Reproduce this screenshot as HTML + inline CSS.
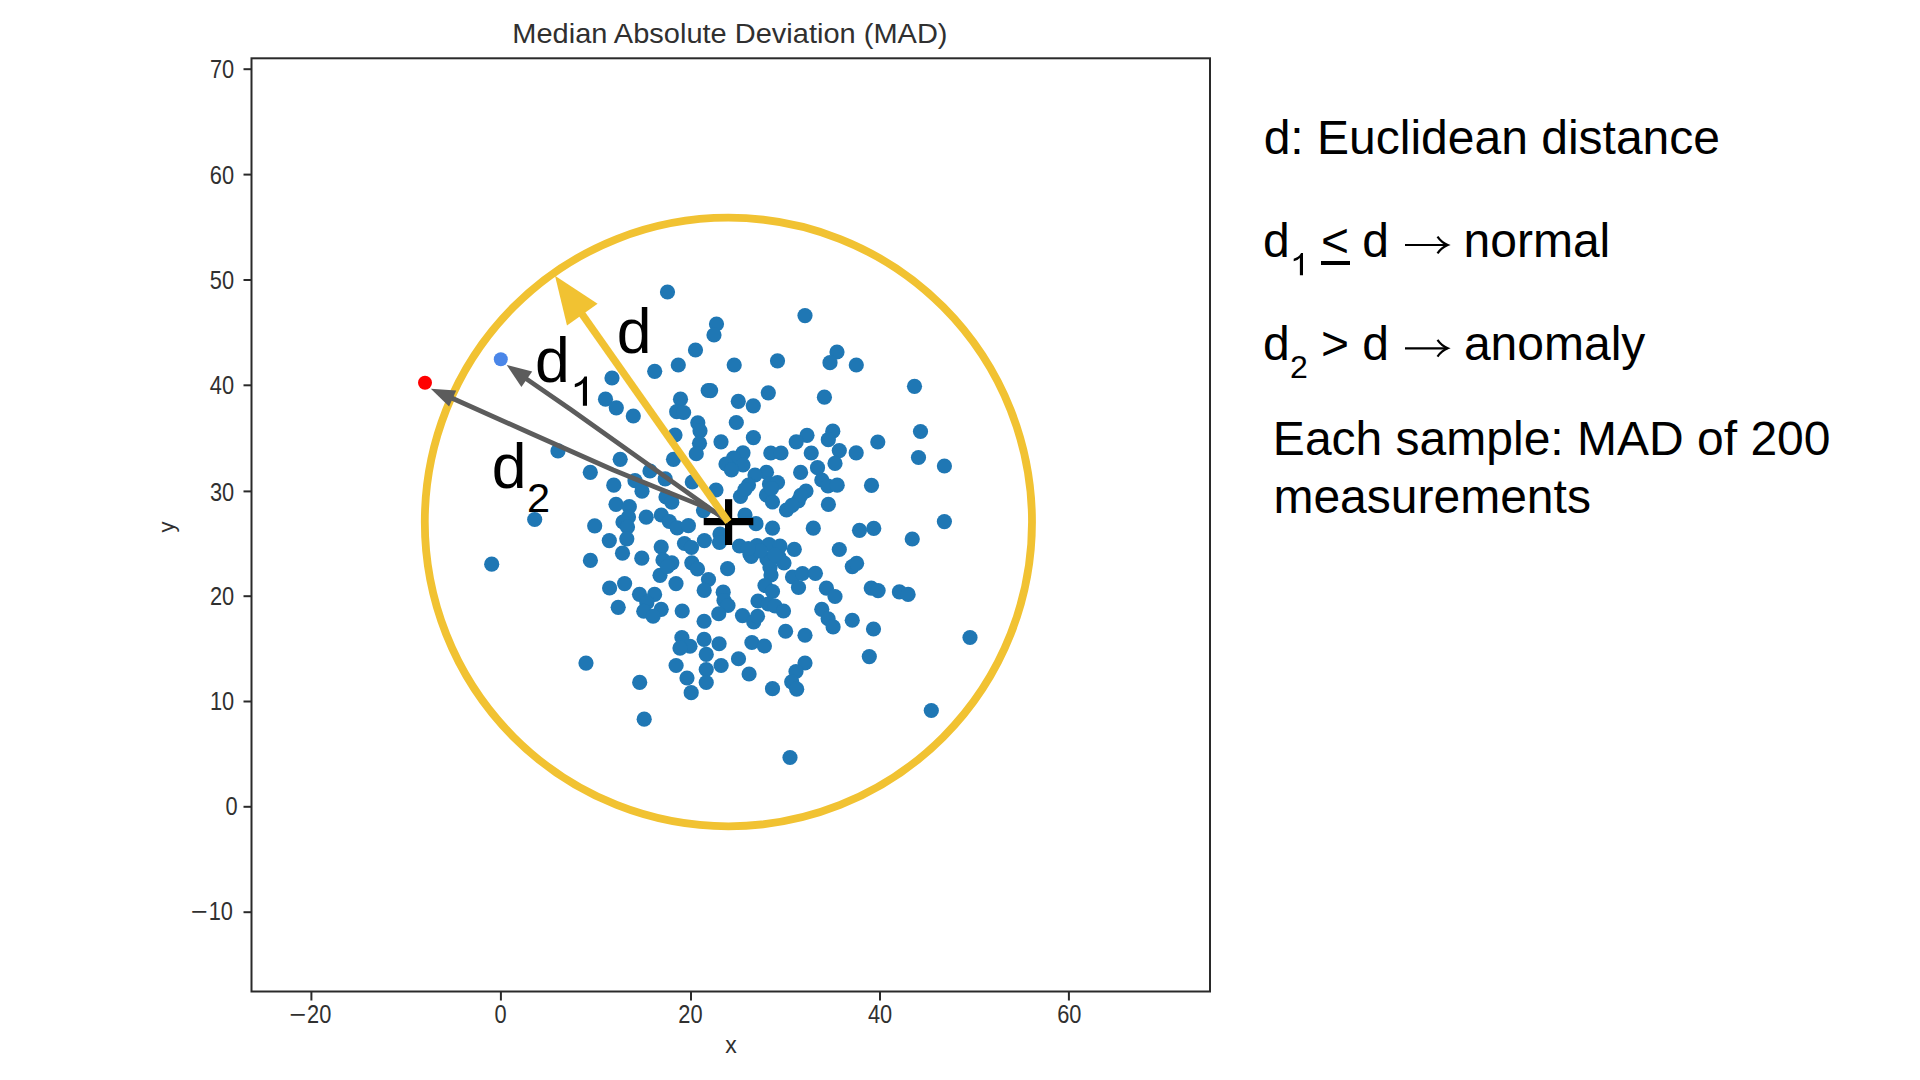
<!DOCTYPE html>
<html><head><meta charset="utf-8"><title>Median Absolute Deviation (MAD)</title>
<style>
html,body{margin:0;padding:0;background:#fff;}
body{width:1920px;height:1080px;position:relative;overflow:hidden;font-family:"Liberation Sans",sans-serif;}
.t{position:absolute;white-space:nowrap;line-height:1;}
.t span.b{display:inline-block;}
.p{position:absolute;white-space:nowrap;line-height:1;}
.rt{position:absolute;white-space:nowrap;color:#000;font-size:48px;line-height:57.4px;}
.sub{font-size:0.6em;position:relative;top:0.36em;}
</style></head><body>
<svg width="1920" height="1080" viewBox="0 0 1920 1080" style="position:absolute;left:0;top:0">
<rect x="251.5" y="58.3" width="958.5" height="933.2" fill="none" stroke="#2a2a2a" stroke-width="2"/>
<line x1="311.4" y1="991.5" x2="311.4" y2="1000.5" stroke="#2a2a2a" stroke-width="2"/>
<line x1="500.9" y1="991.5" x2="500.9" y2="1000.5" stroke="#2a2a2a" stroke-width="2"/>
<line x1="691.0" y1="991.5" x2="691.0" y2="1000.5" stroke="#2a2a2a" stroke-width="2"/>
<line x1="880.0" y1="991.5" x2="880.0" y2="1000.5" stroke="#2a2a2a" stroke-width="2"/>
<line x1="1068.9" y1="991.5" x2="1068.9" y2="1000.5" stroke="#2a2a2a" stroke-width="2"/>
<line x1="243.5" y1="69.2" x2="251.5" y2="69.2" stroke="#2a2a2a" stroke-width="2"/>
<line x1="243.5" y1="174.6" x2="251.5" y2="174.6" stroke="#2a2a2a" stroke-width="2"/>
<line x1="243.5" y1="280.0" x2="251.5" y2="280.0" stroke="#2a2a2a" stroke-width="2"/>
<line x1="243.5" y1="385.3" x2="251.5" y2="385.3" stroke="#2a2a2a" stroke-width="2"/>
<line x1="243.5" y1="491.4" x2="251.5" y2="491.4" stroke="#2a2a2a" stroke-width="2"/>
<line x1="243.5" y1="596.2" x2="251.5" y2="596.2" stroke="#2a2a2a" stroke-width="2"/>
<line x1="243.5" y1="701.5" x2="251.5" y2="701.5" stroke="#2a2a2a" stroke-width="2"/>
<line x1="243.5" y1="806.8" x2="251.5" y2="806.8" stroke="#2a2a2a" stroke-width="2"/>
<line x1="243.5" y1="912.2" x2="251.5" y2="912.2" stroke="#2a2a2a" stroke-width="2"/>
<g fill="#1f77b4">
<circle cx="667.5" cy="292" r="7.6"/>
<circle cx="805" cy="315.6" r="7.6"/>
<circle cx="716.5" cy="324" r="7.6"/>
<circle cx="714" cy="335" r="7.6"/>
<circle cx="695.5" cy="350" r="7.6"/>
<circle cx="837" cy="352" r="7.6"/>
<circle cx="777.5" cy="360.8" r="7.6"/>
<circle cx="830" cy="362.7" r="7.6"/>
<circle cx="678.3" cy="365" r="7.6"/>
<circle cx="734.2" cy="365" r="7.6"/>
<circle cx="856.3" cy="365" r="7.6"/>
<circle cx="654.7" cy="371.3" r="7.6"/>
<circle cx="612" cy="378" r="7.6"/>
<circle cx="708.2" cy="390.5" r="7.6"/>
<circle cx="710.6" cy="390.6" r="7.6"/>
<circle cx="768.3" cy="392.8" r="7.6"/>
<circle cx="824.4" cy="397.2" r="7.6"/>
<circle cx="605.5" cy="399.2" r="7.6"/>
<circle cx="680.5" cy="399.2" r="7.6"/>
<circle cx="738.3" cy="401.3" r="7.6"/>
<circle cx="753.3" cy="405.8" r="7.6"/>
<circle cx="616.3" cy="407.8" r="7.6"/>
<circle cx="676.7" cy="411.7" r="7.6"/>
<circle cx="683.6" cy="412.5" r="7.6"/>
<circle cx="633.3" cy="416" r="7.6"/>
<circle cx="697.8" cy="422.8" r="7.6"/>
<circle cx="736.3" cy="422.5" r="7.6"/>
<circle cx="700" cy="430.8" r="7.6"/>
<circle cx="675" cy="435" r="7.6"/>
<circle cx="753.4" cy="437.6" r="7.6"/>
<circle cx="832.8" cy="431.2" r="7.6"/>
<circle cx="807" cy="435.3" r="7.6"/>
<circle cx="828.3" cy="439.7" r="7.6"/>
<circle cx="721" cy="441.8" r="7.6"/>
<circle cx="796.2" cy="441.8" r="7.6"/>
<circle cx="699.5" cy="443.3" r="7.6"/>
<circle cx="877.8" cy="442" r="7.6"/>
<circle cx="914.5" cy="386.3" r="7.6"/>
<circle cx="920.5" cy="431.5" r="7.6"/>
<circle cx="696.25" cy="453.75" r="7.6"/>
<circle cx="620.2" cy="459.3" r="7.6"/>
<circle cx="673.5" cy="459.3" r="7.6"/>
<circle cx="743" cy="452.8" r="7.6"/>
<circle cx="733.5" cy="458" r="7.6"/>
<circle cx="726" cy="464" r="7.6"/>
<circle cx="743" cy="465" r="7.6"/>
<circle cx="731.5" cy="470" r="7.6"/>
<circle cx="770.8" cy="453" r="7.6"/>
<circle cx="781" cy="453" r="7.6"/>
<circle cx="811.25" cy="453" r="7.6"/>
<circle cx="590.3" cy="472.3" r="7.6"/>
<circle cx="650" cy="471" r="7.6"/>
<circle cx="800.6" cy="472.4" r="7.6"/>
<circle cx="817.5" cy="467.7" r="7.6"/>
<circle cx="766.5" cy="472.3" r="7.6"/>
<circle cx="755" cy="475" r="7.6"/>
<circle cx="613.8" cy="485.2" r="7.6"/>
<circle cx="635" cy="480.7" r="7.6"/>
<circle cx="642" cy="491.2" r="7.6"/>
<circle cx="665.2" cy="478.8" r="7.6"/>
<circle cx="692.3" cy="482" r="7.6"/>
<circle cx="716" cy="490" r="7.6"/>
<circle cx="748.5" cy="485" r="7.6"/>
<circle cx="740.5" cy="496.5" r="7.6"/>
<circle cx="769.5" cy="484" r="7.6"/>
<circle cx="777.5" cy="482.5" r="7.6"/>
<circle cx="766.5" cy="495" r="7.6"/>
<circle cx="772.5" cy="502" r="7.6"/>
<circle cx="806" cy="491" r="7.6"/>
<circle cx="798.2" cy="501" r="7.6"/>
<circle cx="786.5" cy="510" r="7.6"/>
<circle cx="616" cy="504.3" r="7.6"/>
<circle cx="629.3" cy="506.6" r="7.6"/>
<circle cx="666" cy="497" r="7.6"/>
<circle cx="671.8" cy="502.2" r="7.6"/>
<circle cx="703.5" cy="510.6" r="7.6"/>
<circle cx="745" cy="515" r="7.6"/>
<circle cx="646.2" cy="517.2" r="7.6"/>
<circle cx="628.5" cy="517" r="7.6"/>
<circle cx="623" cy="522" r="7.6"/>
<circle cx="627.5" cy="527" r="7.6"/>
<circle cx="661.3" cy="515" r="7.6"/>
<circle cx="669.3" cy="521.5" r="7.6"/>
<circle cx="677.2" cy="527.8" r="7.6"/>
<circle cx="688.4" cy="525.7" r="7.6"/>
<circle cx="594.7" cy="525.8" r="7.6"/>
<circle cx="756" cy="523.7" r="7.6"/>
<circle cx="772.5" cy="528.2" r="7.6"/>
<circle cx="813.3" cy="528.2" r="7.6"/>
<circle cx="609.3" cy="540.6" r="7.6"/>
<circle cx="626.8" cy="538.8" r="7.6"/>
<circle cx="720" cy="534" r="7.6"/>
<circle cx="704.4" cy="540.6" r="7.6"/>
<circle cx="684.5" cy="543.5" r="7.6"/>
<circle cx="691.5" cy="547.5" r="7.6"/>
<circle cx="661.2" cy="547" r="7.6"/>
<circle cx="719.5" cy="542.5" r="7.6"/>
<circle cx="739.5" cy="546" r="7.6"/>
<circle cx="750" cy="554.5" r="7.6"/>
<circle cx="757" cy="545.5" r="7.6"/>
<circle cx="769" cy="544.5" r="7.6"/>
<circle cx="780" cy="546" r="7.6"/>
<circle cx="779" cy="557" r="7.6"/>
<circle cx="784" cy="563" r="7.6"/>
<circle cx="767" cy="559" r="7.6"/>
<circle cx="770" cy="567.5" r="7.6"/>
<circle cx="771" cy="575" r="7.6"/>
<circle cx="765" cy="585.5" r="7.6"/>
<circle cx="772.5" cy="591.5" r="7.6"/>
<circle cx="751.25" cy="556.5" r="7.6"/>
<circle cx="794.3" cy="549.3" r="7.6"/>
<circle cx="622.5" cy="553.2" r="7.6"/>
<circle cx="641.8" cy="558.2" r="7.6"/>
<circle cx="590.4" cy="560.4" r="7.6"/>
<circle cx="663" cy="560" r="7.6"/>
<circle cx="671.8" cy="562.8" r="7.6"/>
<circle cx="691.8" cy="562.8" r="7.6"/>
<circle cx="697.5" cy="569" r="7.6"/>
<circle cx="727.6" cy="568.7" r="7.6"/>
<circle cx="839.3" cy="450.6" r="7.6"/>
<circle cx="856.2" cy="452.8" r="7.6"/>
<circle cx="918.5" cy="457.5" r="7.6"/>
<circle cx="835" cy="463.4" r="7.6"/>
<circle cx="944.4" cy="466" r="7.6"/>
<circle cx="821.8" cy="480" r="7.6"/>
<circle cx="828" cy="486" r="7.6"/>
<circle cx="837.2" cy="485.2" r="7.6"/>
<circle cx="871.5" cy="485.4" r="7.6"/>
<circle cx="828.4" cy="504.4" r="7.6"/>
<circle cx="944.4" cy="521.6" r="7.6"/>
<circle cx="859.5" cy="530.3" r="7.6"/>
<circle cx="873.75" cy="528.4" r="7.6"/>
<circle cx="912.25" cy="539" r="7.6"/>
<circle cx="839.3" cy="549.5" r="7.6"/>
<circle cx="852.3" cy="566.6" r="7.6"/>
<circle cx="856.6" cy="563.3" r="7.6"/>
<circle cx="558" cy="450.9" r="7.6"/>
<circle cx="534.7" cy="519.5" r="7.6"/>
<circle cx="491.7" cy="564.2" r="7.6"/>
<circle cx="660" cy="575.3" r="7.6"/>
<circle cx="676" cy="583.6" r="7.6"/>
<circle cx="708.5" cy="579.5" r="7.6"/>
<circle cx="704.2" cy="590.4" r="7.6"/>
<circle cx="624.6" cy="583.6" r="7.6"/>
<circle cx="609.6" cy="588" r="7.6"/>
<circle cx="639.5" cy="594.3" r="7.6"/>
<circle cx="654.6" cy="594.4" r="7.6"/>
<circle cx="646.8" cy="602.7" r="7.6"/>
<circle cx="618.2" cy="607.3" r="7.6"/>
<circle cx="643.75" cy="611.25" r="7.6"/>
<circle cx="661.2" cy="609.3" r="7.6"/>
<circle cx="653.1" cy="616.25" r="7.6"/>
<circle cx="682.2" cy="611" r="7.6"/>
<circle cx="723.2" cy="592.2" r="7.6"/>
<circle cx="724" cy="600.5" r="7.6"/>
<circle cx="728" cy="605.5" r="7.6"/>
<circle cx="718.75" cy="613.75" r="7.6"/>
<circle cx="704.1" cy="621.25" r="7.6"/>
<circle cx="758" cy="601" r="7.6"/>
<circle cx="768.3" cy="604" r="7.6"/>
<circle cx="775" cy="606" r="7.6"/>
<circle cx="783.5" cy="611" r="7.6"/>
<circle cx="742.5" cy="615.6" r="7.6"/>
<circle cx="753.75" cy="621.9" r="7.6"/>
<circle cx="757.5" cy="616.25" r="7.6"/>
<circle cx="792.5" cy="577" r="7.6"/>
<circle cx="802.5" cy="573.5" r="7.6"/>
<circle cx="815.4" cy="573.3" r="7.6"/>
<circle cx="798.5" cy="587.5" r="7.6"/>
<circle cx="821.8" cy="609.3" r="7.6"/>
<circle cx="785.6" cy="631.25" r="7.6"/>
<circle cx="805" cy="635.25" r="7.6"/>
<circle cx="681.9" cy="637.5" r="7.6"/>
<circle cx="690" cy="646.25" r="7.6"/>
<circle cx="680" cy="648.1" r="7.6"/>
<circle cx="704.1" cy="639.4" r="7.6"/>
<circle cx="719.1" cy="643.75" r="7.6"/>
<circle cx="751.9" cy="642.5" r="7.6"/>
<circle cx="764.4" cy="646" r="7.6"/>
<circle cx="706.25" cy="654.4" r="7.6"/>
<circle cx="738.5" cy="658.75" r="7.6"/>
<circle cx="586" cy="663.1" r="7.6"/>
<circle cx="676.1" cy="665.5" r="7.6"/>
<circle cx="721.1" cy="665.5" r="7.6"/>
<circle cx="706.25" cy="669.5" r="7.6"/>
<circle cx="805" cy="663" r="7.6"/>
<circle cx="796" cy="671.5" r="7.6"/>
<circle cx="791.7" cy="681.8" r="7.6"/>
<circle cx="796.7" cy="689.2" r="7.6"/>
<circle cx="749.1" cy="674" r="7.6"/>
<circle cx="687" cy="678" r="7.6"/>
<circle cx="706.25" cy="682.5" r="7.6"/>
<circle cx="639.7" cy="682.4" r="7.6"/>
<circle cx="772.5" cy="688.7" r="7.6"/>
<circle cx="691.2" cy="692.7" r="7.6"/>
<circle cx="826.4" cy="588.2" r="7.6"/>
<circle cx="835" cy="596.5" r="7.6"/>
<circle cx="871.25" cy="588.1" r="7.6"/>
<circle cx="878.1" cy="590.6" r="7.6"/>
<circle cx="899.4" cy="591.9" r="7.6"/>
<circle cx="908.1" cy="594.4" r="7.6"/>
<circle cx="828.1" cy="618.75" r="7.6"/>
<circle cx="833.1" cy="626.9" r="7.6"/>
<circle cx="852.25" cy="620.25" r="7.6"/>
<circle cx="873.5" cy="629" r="7.6"/>
<circle cx="970" cy="637.5" r="7.6"/>
<circle cx="869.3" cy="656.6" r="7.6"/>
<circle cx="760" cy="550.8" r="7.6"/>
<circle cx="775" cy="555" r="7.6"/>
<circle cx="748.3" cy="548.5" r="7.6"/>
<circle cx="667.5" cy="566.5" r="7.6"/>
<circle cx="800.8" cy="495.3" r="7.6"/>
<circle cx="792" cy="505.3" r="7.6"/>
<circle cx="745" cy="489.5" r="7.6"/>
<circle cx="771.5" cy="488.5" r="7.6"/>
<circle cx="644.2" cy="719.2" r="7.6"/>
<circle cx="790" cy="757.5" r="7.6"/>
<circle cx="931.3" cy="710.5" r="7.6"/>
</g>
<circle cx="500.8" cy="359.2" r="7" fill="#4a86e8"/>
<circle cx="425" cy="382.8" r="7" fill="#ff0000"/>
<ellipse cx="728.4" cy="522.0" rx="303.6" ry="304.3" fill="none" stroke="#f1c232" stroke-width="7.8"/>
<rect x="703.7" y="518" width="49.6" height="7.2" fill="#000"/>
<rect x="725" y="499.2" width="7.2" height="45.8" fill="#000"/>
<path d="M526.0 378.6 L570.4 409.3 L728.5 521.7" fill="none" stroke="#5c5c5c" stroke-width="4.7" stroke-linejoin="round"/><polygon points="506.7,365.0 521.4,386.9 532.2,371.5" fill="#5c5c5c"/>
<path d="M451.7 398.0 L530.0 433.0 L613.3 470.0 L655.0 487.0 L688.3 500.4 L700.0 505.0 L708.0 508.6 L716.0 513.0 L722.0 517.0 L728.5 521.7" fill="none" stroke="#5c5c5c" stroke-width="4.7" stroke-linejoin="round"/><polygon points="430.8,388.7 449.1,406.4 456.2,390.5" fill="#5c5c5c"/>
<line x1="581.7" y1="313.7" x2="728.3" y2="521.9" stroke="#f1c232" stroke-width="7.4"/><polygon points="555.0,275.8 567.0,325.4 597.6,303.8" fill="#f1c232"/>
</svg>
<div class="t" id="title" style="left:512.3px;top:19.3px;font-size:29px;color:#303030;transform:scaleY(0.94);transform-origin:0 24.5px;">Median Absolute Deviation (MAD)</div>
<div class="t xt" style="left:310.79999999999995px;top:1002.4px;font-size:21.8px;color:#303030;transform:translateX(-50%) scaleY(1.15);transform-origin:50% 0;"><span style="display:inline-block;transform:scaleX(1.32);transform-origin:100% 50%;margin-left:3.4px;margin-right:0.6px">−</span>20</div>
<div class="t xt" style="left:500.5px;top:1002.4px;font-size:21.8px;color:#303030;transform:translateX(-50%) scaleY(1.15);transform-origin:50% 0;">0</div>
<div class="t xt" style="left:690.4px;top:1002.4px;font-size:21.8px;color:#303030;transform:translateX(-50%) scaleY(1.15);transform-origin:50% 0;">20</div>
<div class="t xt" style="left:880.0px;top:1002.4px;font-size:21.8px;color:#303030;transform:translateX(-50%) scaleY(1.15);transform-origin:50% 0;">40</div>
<div class="t xt" style="left:1069.3000000000002px;top:1002.4px;font-size:21.8px;color:#303030;transform:translateX(-50%) scaleY(1.15);transform-origin:50% 0;">60</div>
<div class="t yt" style="left:234.20000000000002px;top:59.30px;font-size:21.8px;color:#303030;transform:translateX(-100%) scaleY(1.15);transform-origin:50% 50%;">70</div>
<div class="t yt" style="left:234.1px;top:164.70px;font-size:21.8px;color:#303030;transform:translateX(-100%) scaleY(1.15);transform-origin:50% 50%;">60</div>
<div class="t yt" style="left:234.1px;top:270.10px;font-size:21.8px;color:#303030;transform:translateX(-100%) scaleY(1.15);transform-origin:50% 50%;">50</div>
<div class="t yt" style="left:234.1px;top:375.40px;font-size:21.8px;color:#303030;transform:translateX(-100%) scaleY(1.15);transform-origin:50% 50%;">40</div>
<div class="t yt" style="left:234.20000000000002px;top:481.50px;font-size:21.8px;color:#303030;transform:translateX(-100%) scaleY(1.15);transform-origin:50% 50%;">30</div>
<div class="t yt" style="left:234.20000000000002px;top:586.05px;font-size:21.8px;color:#303030;transform:translateX(-100%) scaleY(1.15);transform-origin:50% 50%;">20</div>
<div class="t yt" style="left:234.20000000000002px;top:691.10px;font-size:21.8px;color:#303030;transform:translateX(-100%) scaleY(1.15);transform-origin:50% 50%;">10</div>
<div class="t yt" style="left:237.6px;top:796.15px;font-size:21.8px;color:#303030;transform:translateX(-100%) scaleY(1.15);transform-origin:50% 50%;">0</div>
<div class="t yt" style="left:232.9px;top:901.30px;font-size:21.8px;color:#303030;transform:translateX(-100%) scaleY(1.15);transform-origin:50% 50%;"><span style="display:inline-block;transform:scaleX(1.32);transform-origin:100% 50%;margin-left:3.4px;margin-right:0.6px">−</span>10</div>
<div class="t" id="xl" style="left:731px;top:1034px;font-size:23px;color:#303030;transform:translateX(-50%);">x</div>
<div class="t" id="yl" style="left:167.3px;top:527px;font-size:22px;color:#303030;transform:translate(-50%,-50%) rotate(-90deg);">y</div>
<div class="p" id="ld" style="left:616.70px;top:299.99px;font-size:62.5px;color:#000;">d</div>
<div class="p" id="ld1" style="left:535.00px;top:329.09px;font-size:62.5px;color:#000;">d</div>
<svg id="ld1s" style="position:absolute;left:0;top:0" width="1920" height="1080" viewBox="0 0 1920 1080"><path d="M584.46 376.50 H587.00 V405.80 H582.90 V383.09 Q580.29 386.17 574.80 387.34 V383.97 Q582.36 381.48 584.46 376.50 Z" fill="#000"/></svg>
<div class="p" id="ld2" style="left:491.70px;top:434.89px;font-size:62.5px;color:#000;">d</div>
<div class="p" id="ld2s" style="left:527.12px;top:476.63px;font-size:41.5px;color:#000;">2</div>
<div class="p" id="r1" style="left:1263.68px;top:113.84px;font-size:48px;color:#000;">d: Euclidean distance</div>
<div class="p" id="r2a" style="left:1263.08px;top:216.84px;font-size:48px;color:#000;">d</div>
<svg id="r2s" style="position:absolute;left:0;top:0" width="1920" height="1080" viewBox="0 0 1920 1080"><path d="M1301.06 253.00 H1303.00 V275.30 H1299.88 V258.02 Q1297.88 260.36 1293.70 261.25 V258.69 Q1299.47 256.79 1301.06 253.00 Z" fill="#000"/></svg>
<div class="p" id="r2lt" style="left:1320.90px;top:216.84px;font-size:48px;color:#000;">&lt;</div>
<div id="r2u" style="position:absolute;left:1321.3px;top:261.3px;width:28.4px;height:3.7px;background:#000"></div>
<div class="p" id="r2d" style="left:1362.28px;top:216.84px;font-size:48px;color:#000;">d</div>
<div class="p" id="r2n" style="left:1463.53px;top:216.84px;font-size:48px;color:#000;">normal</div>
<div class="p" id="r3a" style="left:1263.08px;top:319.74px;font-size:48px;color:#000;">d</div>
<div class="p" id="r3s" style="left:1290.10px;top:351.26px;font-size:32px;color:#000;">2</div>
<div class="p" id="r3gt" style="left:1320.90px;top:319.74px;font-size:48px;color:#000;">&gt;</div>
<div class="p" id="r3d" style="left:1362.28px;top:319.74px;font-size:48px;color:#000;">d</div>
<div class="p" id="r3n" style="left:1463.88px;top:319.74px;font-size:48px;color:#000;">anomaly</div>
<svg id="ar2" style="position:absolute;left:0;top:0" width="1920" height="1080" viewBox="0 0 1920 1080"><path d="M1405 245.0 H1447.3" stroke="#000" stroke-width="2.2" fill="none"/><path d="M1437.5 236.65 Q1441.5 242.5 1447.7 245.0 Q1441.5 247.5 1437.5 253.35" stroke="#000" stroke-width="2.2" fill="none" stroke-linejoin="miter"/></svg>
<svg id="ar3" style="position:absolute;left:0;top:0" width="1920" height="1080" viewBox="0 0 1920 1080"><path d="M1405 348.3 H1447.3" stroke="#000" stroke-width="2.2" fill="none"/><path d="M1437.5 339.95000000000005 Q1441.5 345.8 1447.7 348.3 Q1441.5 350.8 1437.5 356.65" stroke="#000" stroke-width="2.2" fill="none" stroke-linejoin="miter"/></svg>
<div class="p" id="r4" style="left:1272.86px;top:414.94px;font-size:48px;color:#000;">Each sample: MAD of 200</div>
<div class="p" id="r5" style="left:1273.43px;top:472.84px;font-size:48px;color:#000;">measurements</div>
</body></html>
